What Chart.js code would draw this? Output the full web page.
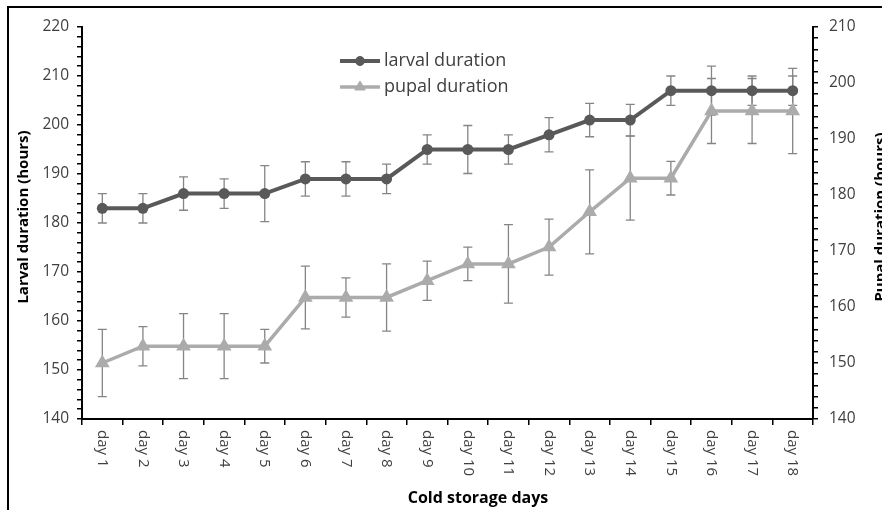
<!DOCTYPE html>
<html>
<head>
<meta charset="utf-8">
<script src="https://cdn.jsdelivr.net/npm/chart.js@4.4.1/dist/chart.umd.min.js"></script>
<style>
  html, body { margin: 0; padding: 0; background: #fff; }
  canvas { display: block; }
</style>
</head>
<body>
<canvas id="chart" width="882" height="510"></canvas>
<script>
// --------- Data ---------
const days = ["day 1", "day 2", "day 3", "day 4", "day 5", "day 6", "day 7", "day 8", "day 9",
  "day 10", "day 11", "day 12", "day 13", "day 14", "day 15", "day 16", "day 17", "day 18"];
const larval = [183, 183, 186, 186, 186, 189, 189, 189, 195, 195, 195, 198, 201, 201, 207, 207, 207, 207];
const larvalErr = [3, 3, 3.4, 3, 5.7, 3.5, 3.5, 3, 3, 4.9, 3, 3.5, 3.4, 3.2, 3, 5, 3, 3];
const pupal = [150, 153, 153, 153, 153, 161.7, 161.7, 161.7, 164.7, 167.7, 167.7, 170.7, 177, 183, 183, 195, 195, 195];
const pupalErr = [6, 3.5, 5.8, 5.8, 3, 5.6, 3.5, 6, 3.5, 3, 7, 5, 7.5, 7.5, 3, 5.8, 5.8, 7.6];

const FONT = "'Open Sans', sans-serif";
const DARK = "#595959";
const LIGHT = "#ababab";

// --------- Error bars (drawn under the lines) ---------
const errorBars = {
  id: "errorBars",
  beforeDatasetsDraw(chart) {
    const ctx = chart.ctx;
    ctx.save();
    ctx.strokeStyle = "#858585";
    ctx.lineWidth = 1.3;
    chart.data.datasets.forEach((ds, di) => {
      const meta = chart.getDatasetMeta(di);
      const scale = chart.scales[ds.yAxisID];
      ds.errors.forEach((e, i) => {
        const x = meta.data[i].x;
        const top = scale.getPixelForValue(ds.data[i] + e);
        const bot = scale.getPixelForValue(ds.data[i] - e);
        ctx.beginPath();
        ctx.moveTo(x, top); ctx.lineTo(x, bot);
        ctx.moveTo(x - 4.5, top); ctx.lineTo(x + 4.5, top);
        ctx.moveTo(x - 4.5, bot); ctx.lineTo(x + 4.5, bot);
        ctx.stroke();
      });
    });
    ctx.restore();
  }
};

// --------- Labels, titles, legend, frame ---------
const decorations = {
  id: "decorations",
  afterDraw(chart) {
    const ctx = chart.ctx;
    const area = chart.chartArea;
    const xs = chart.scales.x;
    const titleY = 217;
    ctx.save();

    // frame
    ctx.strokeStyle = "#000";
    ctx.lineWidth = 2;
    ctx.beginPath();
    ctx.moveTo(8, 512); ctx.lineTo(8, 7); ctx.lineTo(884, 7);
    ctx.stroke();

    // category labels, rotated clockwise
    ctx.fillStyle = "#404040";
    ctx.font = "15px " + FONT;
    ctx.textAlign = "left";
    ctx.textBaseline = "middle";
    days.forEach((d, i) => {
      ctx.save();
      ctx.translate(xs.getPixelForValue(i), area.bottom + 11);
      ctx.rotate(Math.PI / 2);
      ctx.fillText(d, 0, 0);
      ctx.restore();
    });

    // axis titles
    ctx.fillStyle = "#000";
    ctx.font = "bold 16px " + FONT;
    ctx.textAlign = "center";
    ctx.textBaseline = "alphabetic";
    ctx.fillText("Cold storage days", 478, 503);

    ctx.font = "bold 15px " + FONT;
    ctx.save();
    ctx.translate(28, titleY);
    ctx.rotate(-Math.PI / 2);
    ctx.fillText("Larval duration (hours)", 0, 0);
    ctx.restore();

    // right title runs off the edge, as in the source image
    ctx.save();
    ctx.translate(885, titleY);
    ctx.rotate(-Math.PI / 2);
    ctx.fillText("Pupal duration (hours)", 0, 0);
    ctx.restore();

    // legend
    const items = [
      { label: "larval duration", color: DARK, width: 4, style: "circle", r: 4.5, y: 61 },
      { label: "pupal duration", color: LIGHT, width: 3.5, style: "triangle", r: 6, y: 87 }
    ];
    ctx.font = "18px " + FONT;
    ctx.textAlign = "left";
    ctx.textBaseline = "middle";
    items.forEach((it) => {
      ctx.strokeStyle = it.color;
      ctx.fillStyle = it.color;
      ctx.lineWidth = it.width;
      ctx.beginPath();
      ctx.moveTo(340, it.y); ctx.lineTo(380, it.y);
      ctx.stroke();
      ctx.lineWidth = 1;
      Chart.helpers.drawPoint(ctx, { pointStyle: it.style, radius: it.r, borderWidth: 1, rotation: 0 }, 360, it.y);
      ctx.fillStyle = "#404040";
      ctx.fillText(it.label, 384, it.y);
    });

    ctx.restore();
  }
};

// --------- Chart ---------
const yTick = (v) => (v % 10 === 0 ? v : "");

new Chart(document.getElementById("chart"), {
  type: "line",
  data: {
    labels: days,
    datasets: [
      {
        label: "larval duration",
        data: larval,
        errors: larvalErr,
        yAxisID: "y",
        borderColor: DARK,
        backgroundColor: DARK,
        borderWidth: 4,
        pointStyle: "circle",
        pointRadius: 5.5,
        pointBorderWidth: 0,
        tension: 0
      },
      {
        label: "pupal duration",
        data: pupal,
        errors: pupalErr,
        yAxisID: "y1",
        borderColor: LIGHT,
        backgroundColor: LIGHT,
        borderWidth: 3.5,
        pointStyle: "triangle",
        pointRadius: 8.5,
        pointBorderWidth: 0,
        tension: 0
      }
    ]
  },
  options: {
    responsive: false,
    animation: false,
    layout: { padding: { top: 27, left: 0, right: 0, bottom: 0 } },
    plugins: {
      legend: { display: false },
      tooltip: { enabled: false }
    },
    scales: {
      x: {
        offset: true,
        grid: {
          offset: true,
          drawOnChartArea: false,
          drawTicks: true,
          tickLength: 6,
          color: "#000",
          lineWidth: 1.5
        },
        border: { color: "#000", width: 2 },
        ticks: { display: false },
        afterFit: (s) => { s.height = 91; }
      },
      y: {
        position: "left",
        min: 140,
        max: 220,
        grid: {
          drawOnChartArea: false,
          tickLength: 5,
          color: "#000",
          lineWidth: 1.5
        },
        border: { color: "#000", width: 2 },
        ticks: {
          stepSize: 2,
          autoSkip: false,
          callback: yTick,
          color: "#404040",
          padding: 8,
          font: { family: FONT, size: 15.5 }
        },
        afterFit: (s) => { s.width = 82; }
      },
      y1: {
        position: "right",
        min: 140,
        max: 210,
        grid: {
          drawOnChartArea: false,
          tickLength: 5,
          color: "#000",
          lineWidth: 1.5
        },
        border: { color: "#000", width: 2 },
        ticks: {
          stepSize: 2,
          autoSkip: false,
          callback: yTick,
          color: "#404040",
          padding: 11,
          font: { family: FONT, size: 15.5 }
        },
        afterFit: (s) => { s.width = 69; }
      }
    }
  },
  plugins: [errorBars, decorations]
});
</script>
</body>
</html>
